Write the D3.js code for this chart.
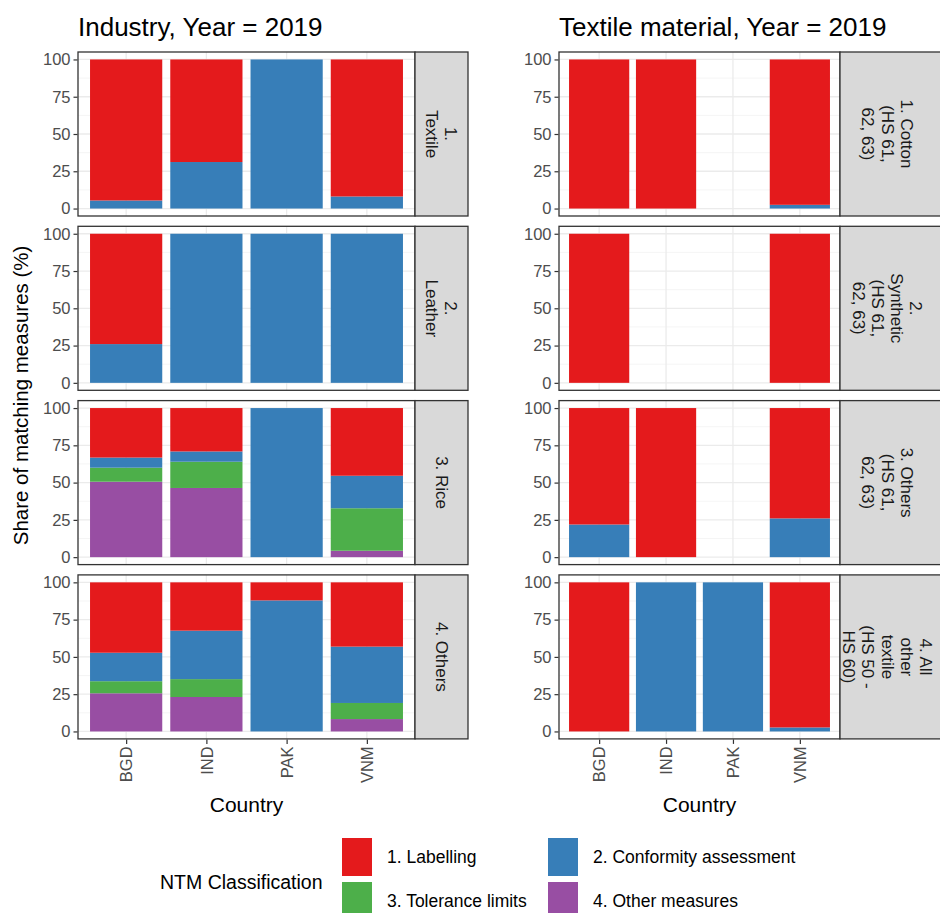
<!DOCTYPE html>
<html>
<head>
<meta charset="utf-8">
<script src="https://cdn.jsdelivr.net/npm/d3@7"></script>
<style>
  body { margin: 0; background: #fff; }
  svg { display: block; font-family: "Liberation Sans", Arial, sans-serif; }
</style>
</head>
<body>
<svg id="chart" width="940" height="913"></svg>
<script>
// ---------------- DATA ----------------
const countries = ["BGD", "IND", "PAK", "VNM"];
const ntmClasses = ["1. Labelling", "2. Conformity assessment", "3. Tolerance limits", "4. Other measures"];
const ntmColors = ["#E41A1C", "#377EB8", "#4DAF4A", "#984EA3"];
const yTicks = [0, 25, 50, 75, 100];

const industryTitle = "Industry, Year = 2019";
const textileTitle = "Textile material, Year = 2019";

const industryFacets = [["1.", "Textile"], ["2.", "Leather"], ["3. Rice"], ["4. Others"]];
const textileFacets = [
  ["1. Cotton", "(HS 61,", "62, 63)"],
  ["2.", "Synthetic", "(HS 61,", "62, 63)"],
  ["3. Others", "(HS 61,", "62, 63)"],
  ["4. All", "other", "textile", "(HS 50 -", "HS 60)"]
];

// values per facet (rows) x country (cols); null = no bar
const industryLabelling   = [[94.6, 68.8, 0, 91.9], [74.0, 0, 0, 0], [33.2, 29.1, 0, 45.4], [47.2, 32.4, 12.1, 43.1]];
const industryConformity  = [[5.4, 31.2, 100, 8.1], [26.0, 100, 100, 100], [6.8, 6.9, 100, 21.8], [19.1, 32.5, 87.9, 37.8]];
const industryTolerance   = [[0, 0, 0, 0], [0, 0, 0, 0], [9.4, 17.6, 0, 28.5], [8.1, 12.0, 0, 10.8]];
const industryOther       = [[0, 0, 0, 0], [0, 0, 0, 0], [50.6, 46.4, 0, 4.3], [25.6, 23.1, 0, 8.3]];

const textileLabelling    = [[100, 100, null, 97.5], [100, null, null, 100], [78.1, 100, null, 74.0], [100, 0, 0, 97.3]];
const textileConformity   = [[0, 0, null, 2.5], [0, null, null, 0], [21.9, 0, null, 26.0], [0, 100, 100, 2.7]];
const textileTolerance    = [[0, 0, null, 0], [0, null, null, 0], [0, 0, null, 0], [0, 0, 0, 0]];
const textileOther        = [[0, 0, null, 0], [0, null, null, 0], [0, 0, null, 0], [0, 0, 0, 0]];

// ---------------- LAYOUT ----------------
const svg = d3.select("#chart");
const rowTop0 = 52, panelH = 164, rowStep = 174.3;
const groups = [
  { title: industryTitle, facets: industryFacets, x0: 78, x1: 415, stripX1: 468,
    series: [industryLabelling, industryConformity, industryTolerance, industryOther] },
  { title: textileTitle, facets: textileFacets, x0: 559, x1: 840, stripX1: 946,
    series: [textileLabelling, textileConformity, textileTolerance, textileOther] }
];

const color = d3.scaleOrdinal().domain(ntmClasses).range(ntmColors);

groups.forEach((grp) => {
  // ggplot discrete scale: expansion of 0.6 units on each side
  const x = d3.scalePoint().domain(countries).range([grp.x0, grp.x1]).padding(0.6);
  const barW = x.step() * 0.9;

  svg.append("text").attr("x", grp.x0).attr("y", 36)
    .attr("font-size", 26).attr("fill", "#000").text(grp.title);

  grp.facets.forEach((lines, r) => {
    const top = rowTop0 + r * rowStep, bottom = top + panelH;
    const y = d3.scaleLinear().domain([-5, 105]).range([bottom, top]);
    const g = svg.append("g");

    g.append("rect").attr("x", grp.x0).attr("y", top)
      .attr("width", grp.x1 - grp.x0).attr("height", panelH).attr("fill", "#fff");
    // minor grid
    [12.5, 37.5, 62.5, 87.5].forEach(v => {
      g.append("line").attr("x1", grp.x0).attr("x2", grp.x1)
        .attr("y1", y(v)).attr("y2", y(v)).attr("stroke", "#F2F2F2").attr("stroke-width", 0.8);
    });
    yTicks.forEach(v => {
      g.append("line").attr("x1", grp.x0).attr("x2", grp.x1)
        .attr("y1", y(v)).attr("y2", y(v)).attr("stroke", "#EBEBEB").attr("stroke-width", 1.3);
    });
    countries.forEach(c => {
      g.append("line").attr("x1", x(c)).attr("x2", x(c))
        .attr("y1", top).attr("y2", bottom).attr("stroke", "#EBEBEB").attr("stroke-width", 1.3);
    });

    // stacked bars: first class on top, last class at the bottom
    countries.forEach((c, ci) => {
      let acc = 0;
      for (let k = ntmClasses.length - 1; k >= 0; k--) {
        const v = grp.series[k][r][ci];
        if (v === null || v === undefined || v <= 0) continue;
        g.append("rect")
          .attr("x", x(c) - barW / 2).attr("width", barW)
          .attr("y", y(acc + v)).attr("height", y(acc) - y(acc + v))
          .attr("fill", color(ntmClasses[k]));
        acc += v;
      }
    });

    // panel border
    g.append("rect").attr("x", grp.x0).attr("y", top)
      .attr("width", grp.x1 - grp.x0).attr("height", panelH)
      .attr("fill", "none").attr("stroke", "#333333").attr("stroke-width", 1.3);

    // y axis
    const yAxis = d3.axisLeft(y).tickValues(yTicks).tickSize(4).tickPadding(3);
    const ya = svg.append("g").attr("transform", `translate(${grp.x0 - 0.5},0)`).call(yAxis);
    ya.select(".domain").remove();
    ya.selectAll(".tick line").attr("stroke", "#333333").attr("stroke-width", 1.2);
    ya.selectAll(".tick text").attr("font-size", 16.5).attr("fill", "#4D4D4D")
      .attr("font-family", "'Liberation Sans', Arial, sans-serif");

    // strip
    svg.append("rect").attr("x", grp.x1).attr("y", top)
      .attr("width", grp.stripX1 - grp.x1).attr("height", panelH)
      .attr("fill", "#D9D9D9").attr("stroke", "#333333").attr("stroke-width", 1.3);
    const cx = (grp.x1 + Math.min(grp.stripX1, 935)) / 2, cy = top + panelH / 2;
    const lh = 19.2;
    const st = svg.append("text").attr("transform", `translate(${cx},${cy}) rotate(90)`)
      .attr("text-anchor", "middle").attr("font-size", 17).attr("fill", "#1A1A1A");
    lines.forEach((ln, i) => {
      st.append("tspan").attr("x", 0).attr("y", (i - (lines.length - 1) / 2) * lh)
        .attr("dy", "0.35em").text(ln);
    });

    // x axis on bottom row
    if (r === grp.facets.length - 1) {
      const xAxis = d3.axisBottom(x).tickSize(4.5).tickPadding(3);
      const xa = svg.append("g").attr("transform", `translate(0,${bottom + 0.5})`).call(xAxis);
      xa.select(".domain").remove();
      xa.selectAll(".tick line").attr("stroke", "#333333").attr("stroke-width", 1.2);
      xa.selectAll(".tick text")
        .attr("transform", "translate(0,7) rotate(-90)")
        .attr("x", 0).attr("y", 0).attr("dy", "0.35em")
        .attr("text-anchor", "end")
        .attr("font-size", 16.5).attr("fill", "#4D4D4D")
        .attr("font-family", "'Liberation Sans', Arial, sans-serif");
      svg.append("text").attr("x", (grp.x0 + grp.x1) / 2).attr("y", 812)
        .attr("text-anchor", "middle").attr("font-size", 21).attr("fill", "#000").text("Country");
    }
  });
});

// y axis title
svg.append("text").attr("transform", `translate(28,${(rowTop0 + rowTop0 + 3 * rowStep + panelH) / 2}) rotate(-90)`)
  .attr("text-anchor", "middle").attr("font-size", 20.5).attr("fill", "#000")
  .text("Share of matching measures (%)");

// ---------------- LEGEND ----------------
const leg = svg.append("g");
leg.append("text").attr("x", 160).attr("y", 889).attr("font-size", 19.5).attr("fill", "#000")
  .text("NTM Classification");
const keyPos = [[342, 838], [548, 838], [342, 882], [548, 882]];
ntmClasses.forEach((cl, i) => {
  const [kx, ky] = keyPos[i];
  leg.append("rect").attr("x", kx).attr("y", ky).attr("width", 30).attr("height", 38)
    .attr("fill", color(cl));
  leg.append("text").attr("x", kx + 45).attr("y", ky + 25).attr("font-size", 17.5)
    .attr("fill", "#000").text(cl);
});
</script>
</body>
</html>
